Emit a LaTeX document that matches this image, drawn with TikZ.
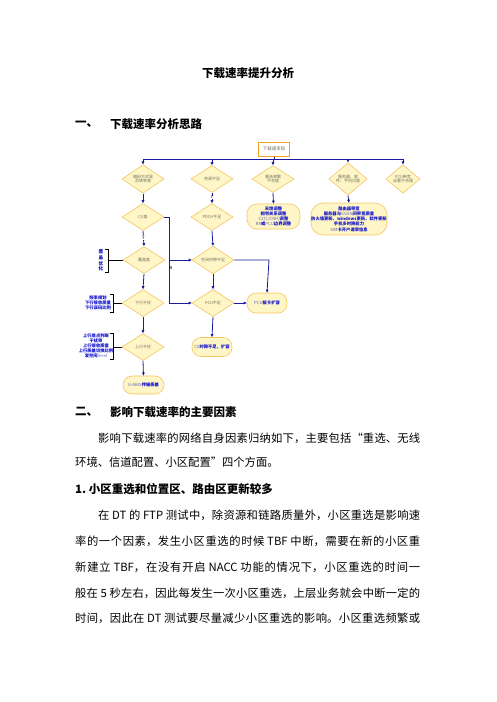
\documentclass[tikz,border=0pt]{standalone}
\usepackage{fontspec}
\setmainfont{Noto Sans CJK SC}
\usetikzlibrary{shapes.geometric,arrows.meta}
\definecolor{flowc}{HTML}{1A1AA0}
\definecolor{diaedge}{HTML}{F5C560}
\definecolor{diafill}{HTML}{FFF6C8}
\definecolor{diatext}{HTML}{707058}
\definecolor{bluet}{HTML}{1010CC}
\definecolor{latc}{HTML}{6060A8}
\definecolor{topedge}{HTML}{F0A020}
\newcommand\myjline[2]{\parbox{#1}{\XeTeXlinebreaklocale "zh"\XeTeXlinebreakskip=0pt plus 3pt\parfillskip=0pt\relax #2\par}}
\newcommand\latp[1]{{\mdseries\color{latc}#1}}
\begin{document}
\begin{tikzpicture}[x=1pt,y=-1pt,
  dia/.style={diamond, draw=diaedge, fill=diafill, line width=0.6pt, inner sep=0pt, minimum width=42pt, minimum height=27pt, font=\fontsize{4}{4.8}\selectfont, text=diatext, align=center},
  stad/.style={rectangle, draw=diaedge, fill=diafill, line width=0.6pt, inner sep=0pt, font=\fontsize{4.3}{5.2}\selectfont\bfseries, text=bluet, align=center},
  conn/.style={draw=flowc, line width=0.8pt},
  arr/.style={conn, -{Triangle[length=3pt,width=2.6pt]}},
  brk/.style={draw=black, line width=0.6pt},
  note/.style={font=\fontsize{4.3}{5}\selectfont\bfseries, text=bluet, align=center, inner sep=0pt},
  lab/.style={font=\fontsize{4}{4}\selectfont, text=black, inner sep=0.5pt},
  body/.style={anchor=west, inner sep=0pt, font=\fontsize{11.3}{13}\selectfont},
  head/.style={anchor=west, inner sep=0pt, font=\fontsize{11.5}{13}\selectfont\bfseries},
]
\useasboundingbox (0,0) rectangle (496,702);
\fill[white] (0,0) rectangle (496,702);

% title and heading
\node[inner sep=0pt, font=\fontsize{11.5}{13}\selectfont\bfseries] (title) at (248,73) {下载速率提升分析};
\node[head] (h1n) at (75,124) {一、};
\node[head] (h1t) at (110,124) {下载速率分析思路};

% flowchart
\node[draw=topedge, line width=1pt, fill=white, minimum width=31pt, minimum height=14pt, inner sep=0pt, font=\fontsize{4.5}{5}\selectfont, text=diatext] (top) at (274,149) {下载速率低};
\coordinate (jt) at (274,159);
\coordinate (j1) at (143,159);
\coordinate (j2) at (212,159);
\coordinate (j3) at (273,159);
\coordinate (j4) at (348,159);
\coordinate (j5) at (403,159);

\node[dia] (d1) at (143,179) {编码方式是\\否转率高};
\node[dia] (d2) at (212,179) {资源不足};
\node[dia] (d3) at (273,179) {重选频繁\\不合理};
\node[dia, minimum width=38pt] (d4) at (348,179) {服务器、软\\件、手机问题};
\node[dia, minimum width=34pt] (d5) at (403,179) {PCU带宽\\设置不合理};

\node[dia] (c1) at (143,217) {C/I差};
\node[dia] (c2) at (212,217) {PDCH不足};
\node[stad, rounded corners=10pt, minimum width=53pt, minimum height=25pt] (r3) at (273.5,216.5) {天馈调整\\相邻关系调整\\\latp{C2(C/CRH)}调整\\\latp{RA}或\latp{PCU}边界调整};
\node[stad, rounded corners=12pt, minimum width=76pt, minimum height=32pt] (r4) at (349,219) {路由器带宽\\服务器与\latp{GGSN}间带宽质量\\防火墙更新、windows更新、软件更新\\手机多时隙能力\\\latp{SIM}卡开户速率信息};

\node[dia] (e1) at (144,260) {覆盖差};
\node[dia] (e2) at (213,260) {空闲时隙不足};

\node[dia] (f1) at (143,303) {下行干扰};
\node[dia] (f2) at (213,303) {PCU不足};
\node[stad, rounded corners=9pt, minimum width=40pt, minimum height=20pt] (g3) at (267,303) {\latp{PCU}板卡扩容};

\node[dia] (k1) at (143,347) {上行干扰};
\node[stad, rounded corners=9pt, minimum width=40pt, minimum height=19pt] (k2) at (212,347) {\latp{CS}时隙不足，扩容};

\node[stad, rounded corners=9pt, minimum width=41pt, minimum height=18pt] (i1) at (143.5,385) {\latp{G-ABIS}传输质差};

% connectors
\draw[conn] (top.south) -- (jt);
\draw[conn] (j1) -- (j5);
\draw[arr] (j1) -- (d1.north);
\draw[arr] (j2) -- (d2.north);
\draw[arr] (j3) -- (d3.north);
\draw[arr] (j4) -- (d4.north);
\draw[arr] (j5) -- (d5.north);

\draw[arr] (d1.south) -- (c1.north);
\draw[arr] (d2.south) -- node[lab, pos=0.45, fill=white] (ly2) {Y} (c2.north);
\draw[arr] (d3.south) -- (r3.north);
\draw[arr] (d4.south) -- (r4.north);

\draw[arr] (c1.south) -- node[lab, pos=0.45, fill=white] (ly1) {Y} (e1.north);
\draw[arr] (c2.south) -- (e2.north);

\coordinate (nA) at (169,217);
\coordinate (nB) at (169,260);
\coordinate (nC) at (169,303);
\draw[conn] (c1.east) -- (nA) -- (nC);
\draw[arr] (nB) -- (e2.west);
\draw[arr] (nC) -- (f2.west);
\node[lab, anchor=west] (ln) at (169,268) {N};

\draw[arr] (e1.south) -- (f1.north);
\draw[arr] (e2.south) -- (f2.north);
\coordinate (nD) at (269,260);
\draw[arr] (e2.east) -- (nD) -- (g3.north);
\draw[arr] (f2.east) -- (g3.west);

\draw[arr] (f1.south) -- (k1.north);
\draw[arr] (f2.south) -- (k2.north);
\draw[arr] (k1.south) -- (i1.north);

% side notes with brackets
\node[note, font=\fontsize{4.6}{5.6}\selectfont\bfseries] (n1) at (101,260.5) {覆\\盖\\优\\化};
\coordinate (b1) at (108,260);
\draw[brk] (105,249) -- (108,249) -- (108,272) -- (105,272);
\draw[brk] (b1) -- (e1.west);

\node[note] (n2) at (98,303) {频率规划\\下行接收质量\\下行误码比例};
\coordinate (b2) at (113,303);
\draw[brk] (110,294) -- (113,294) -- (113,312.5) -- (110,312.5);
\draw[brk] (b2) -- (f1.west);

\node[note] (n3) at (96,346) {上行底点判断\\干扰带\\上行接收质量\\上行质差切换比例\\发空闲\latp{level}};
\coordinate (b3) at (113,347);
\draw[brk] (110,333) -- (113,333) -- (113,359) -- (110,359);
\draw[brk] (b3) -- (k1.west);

% section two
\node[head] (h2n) at (75,412) {二、};
\node[head] (h2t) at (110,412) {影响下载速率的主要因素};
\node[body] (p1) at (98,438) {\myjline{322pt}{影响下载速率的网络自身因素归纳如下，主要包括“重选、无线}};
\node[body] (p2) at (75,462) {环境、信道配置、小区配置”四个方面。};
\node[head] (h3) at (75,489) {1.\ 小区重选和位置区、路由区更新较多};
\node[body] (p3) at (98,515) {\myjline{322pt}{在 DT 的 FTP 测试中，除资源和链路质量外，小区重选是影响速}};
\node[body] (p4) at (75,541) {\myjline{345pt}{率的一个因素，发生小区重选的时候 TBF 中断，需要在新的小区重}};
\node[body] (p5) at (75,567) {\myjline{345pt}{新建立 TBF，在没有开启 NACC 功能的情况下，小区重选的时间一}};
\node[body] (p6) at (75,593) {\myjline{345pt}{般在 5 秒左右，因此每发生一次小区重选，上层业务就会中断一定的}};
\node[body] (p7) at (75,618) {\myjline{345pt}{时间，因此在 DT 测试要尽量减少小区重选的影响。小区重选频繁或}};
\end{tikzpicture}
\end{document}
